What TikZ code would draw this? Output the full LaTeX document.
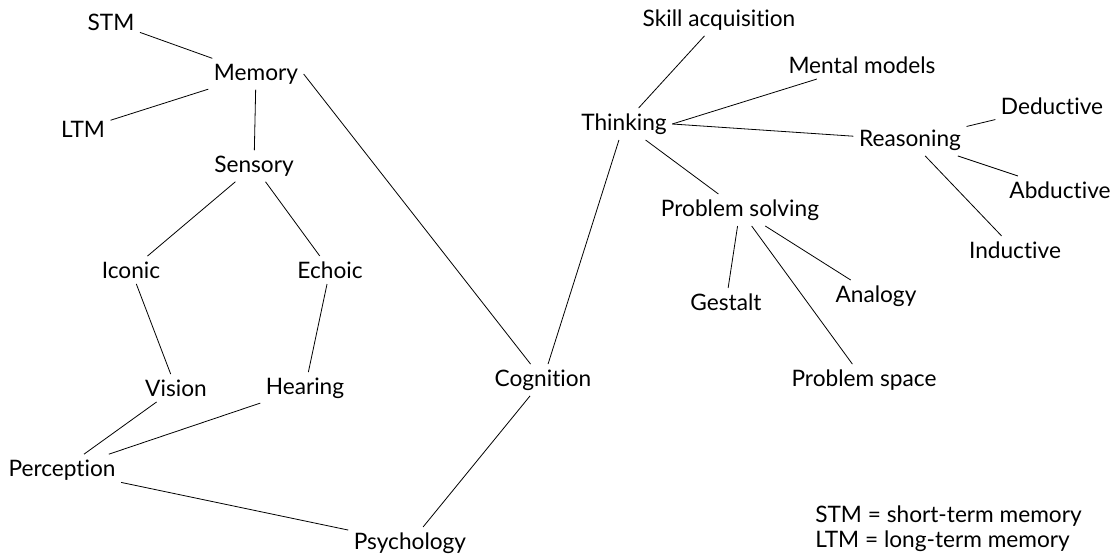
\documentclass[tikz,border=0pt]{standalone}
\usepackage{fontspec}
\setmainfont[Ligatures={NoCommon,NoContextual}]{Lato}
\usetikzlibrary{positioning}
\tikzstyle{term} = [text centered, inner sep=4pt, font=\fontsize{17}{19}\selectfont]
\tikzstyle{line} = [draw, line width=0.6pt]

\begin{document}
\begin{tikzpicture}[x=0.75pt, y=-0.75pt]
	\useasboundingbox (0,0) rectangle (1117,554);
	% Place nodes
	\node [term] (stm) at (111,22) {STM};
	\node [term] (memory) at (256,74) {Memory};
	\node [term] (ltm) at (83,129) {LTM};
	\node [term] (sensory) at (254,166) {Sensory};
	\node [term] (iconic) at (131,270) {Iconic};
	\node [term] (echoic) at (330,270) {Echoic};
	\node [term] (vision) at (176,388) {Vision};
	\node [term] (hearing) at (305,388) {Hearing};
	\node [term] (perception) at (62,470) {Perception};
	\node [term] (psychology) at (410,543) {Psychology};
	\node [term] (cognition) at (543,380) {Cognition};
	\node [term] (thinking) at (624,124) {Thinking};
	\node [term] (skill) at (719,20) {Skill acquisition};
	\node [term] (mental) at (862,65) {Mental models};
	\node [term] (reasoning) at (910,140) {Reasoning};
	\node [term] (deductive) at (1052,106) {Deductive};
	\node [term] (abductive) at (1060,190) {Abductive};
	\node [term] (inductive) at (1015,250) {Inductive};
	\node [term] (problem) at (740,210) {Problem solving};
	\node [term] (gestalt) at (726,302) {Gestalt};
	\node [term] (analogy) at (876,296) {Analogy};
	\node [term] (space) at (864,380) {Problem space};
	\node [term, anchor=west, align=left, inner sep=0pt] (legend) at (815,529) {STM = short-term memory\\LTM = long-term memory};

	% Draw edges
	\path [line] (stm) -- (memory);
	\path [line] (ltm) -- (memory);
	\path [line] (memory) -- (sensory);
	\path [line] (memory.east) -- (cognition);
	\path [line] (sensory) -- (iconic);
	\path [line] (sensory) -- (echoic);
	\path [line] (iconic) -- (vision);
	\path [line] (echoic) -- (hearing);
	\path [line] (vision) -- (perception);
	\path [line] (hearing) -- (perception);
	\path [line] (perception) -- (psychology);
	\path [line] (cognition) -- (psychology);
	\path [line] (thinking) -- (cognition);
	\path [line] (thinking) -- (skill);
	\path [line] (thinking.east) -- (mental);
	\path [line] (thinking.east) -- (reasoning);
	\path [line] (thinking) -- (problem);
	\path [line] (reasoning) -- (deductive);
	\path [line] (reasoning) -- (abductive);
	\path [line] (reasoning) -- (inductive);
	\path [line] (problem) -- (gestalt);
	\path [line] (problem) -- (analogy);
	\path [line] (problem) -- (space);
\end{tikzpicture}
\end{document}
